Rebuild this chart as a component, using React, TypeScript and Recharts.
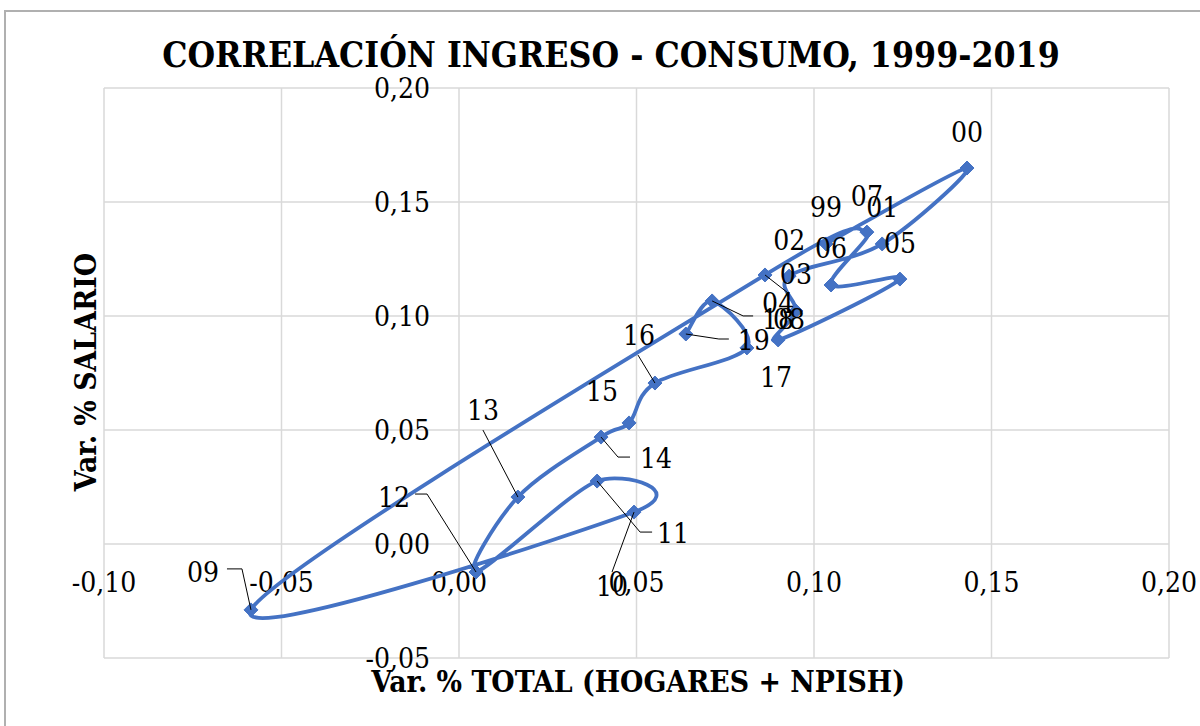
import React from 'react';
import { ScatterChart, Scatter, XAxis, YAxis, CartesianGrid, ReferenceDot } from 'recharts';

// year labels, consumption growth (x) and wage growth (y)
const YEARS = ['99', '00', '01', '02', '03', '04', '05', '06', '07', '08', '09', '10', '11', '12', '13', '14', '15', '16', '17', '18', '19'];
const CONSUMO = [0.1034, 0.1431, 0.1192, 0.093, 0.0949, 0.0899, 0.1242, 0.1048, 0.1149, 0.0862, -0.0586, 0.0493, 0.0389, 0.0048, 0.0166, 0.04, 0.0479, 0.0552, 0.0811, 0.0713, 0.0639];
const SALARIO = [0.1316, 0.1649, 0.1316, 0.1175, 0.1022, 0.0895, 0.1162, 0.1136, 0.1368, 0.118, -0.0289, 0.014, 0.0276, -0.0123, 0.0206, 0.0469, 0.0531, 0.0706, 0.086, 0.1066, 0.0921];

const X_TICKS = [-0.1, -0.05, 0, 0.05, 0.1, 0.15, 0.2];
const Y_TICKS = [-0.05, 0, 0.05, 0.1, 0.15, 0.2];

const BLUE = '#4472C4';
const GRID = '#D9D9D9';
const FONT = "'DejaVu Serif Condensed', 'DejaVu Serif', serif";
const TXT = { fontFamily: FONT, fontStretch: 'condensed' } as React.CSSProperties;

// label placement in px relative to the marker (default: above)
const LABEL_LAYOUT: Record<string, { dx: number; dy: number; leader?: number[][] }> = {
  '08': { dx: 24, dy: 45, leader: [[0, 0], [23, 18]] },
  '09': { dx: -48, dy: -37, leader: [[0, 0], [-9, -41], [-24, -41]] },
  '10': { dx: -22, dy: 74, leader: [[0, 0], [-22, 60]] },
  '11': { dx: 76, dy: 52, leader: [[0, 0], [43, 51], [55, 51]] },
  '12': { dx: -82, dy: -75, leader: [[0, 0], [-49, -78], [-61, -78]] },
  '13': { dx: -35, dy: -87, leader: [[0, 0], [-35, -67]] },
  '14': { dx: 55, dy: 21, leader: [[0, 0], [17, 20], [29, 20]] },
  '15': { dx: -27, dy: -31 },
  '16': { dx: -16, dy: -48, leader: [[0, 0], [-17, -28]] },
  '17': { dx: 29, dy: 30 },
  '18': { dx: 66, dy: 19, leader: [[0, 0], [31, 15], [41, 15]] },
  '19': { dx: 68, dy: 6, leader: [[0, 0], [33, 5], [43, 5]] },
};

const data = YEARS.map((year, i) => ({ year, x: CONSUMO[i], y: SALARIO[i] }));

const fmt = (v: number) => v.toFixed(2).replace('.', ',');

// catmull-rom style smoothing, similar to Excel's "smoothed line"
function SmoothLine(props: any) {
  const pts = props.points || [];
  if (pts.length < 2) return null;
  let d = `M${pts[0].x},${pts[0].y}`;
  for (let i = 0; i < pts.length - 1; i++) {
    const p0 = pts[i - 1] || pts[i];
    const p1 = pts[i];
    const p2 = pts[i + 1];
    const p3 = pts[i + 2] || p2;
    const c1x = p1.x + (p2.x - p0.x) / 6;
    const c1y = p1.y + (p2.y - p0.y) / 6;
    const c2x = p2.x - (p3.x - p1.x) / 6;
    const c2y = p2.y - (p3.y - p1.y) / 6;
    d += ` C${c1x},${c1y} ${c2x},${c2y} ${p2.x},${p2.y}`;
  }
  return <path d={d} fill="none" stroke={BLUE} strokeWidth={3.8} strokeLinejoin="round" />;
}

function Diamond({ cx, cy }: any) {
  const r = 7;
  return <path d={`M${cx},${cy - r} L${cx + r},${cy} L${cx},${cy + r} L${cx - r},${cy} Z`} fill={BLUE} stroke={BLUE} />;
}

function YearLabel({ cx, cy, payload }: any) {
  const lay = LABEL_LAYOUT[payload.year] || { dx: 0, dy: -36 };
  return (
    <g>
      {lay.leader && (
        <polyline
          points={lay.leader.map(([a, b]) => `${cx + a},${cy + b}`).join(' ')}
          fill="none"
          stroke="#000"
          strokeWidth={1}
        />
      )}
      <text x={cx + lay.dx} y={cy + lay.dy} textAnchor="middle" dominantBaseline="central" style={TXT} fontSize={28} fill="#000">
        {payload.year}
      </text>
    </g>
  );
}

export default function App() {
  return (
    <div style={{ position: 'absolute', left: 0, top: 0, width: 1200, height: 726, overflow: 'hidden', background: '#fff' }}>
      <div style={{ position: 'absolute', left: 4, top: 10, width: 1196, height: 716, borderLeft: '2px solid #B0B0B0', borderTop: '2px solid #B0B0B0', boxSizing: 'border-box' }} />
      <ScatterChart width={1200} height={726} margin={{ top: 88, right: 31, bottom: 68, left: 104 }} style={{ position: 'absolute', left: 0, top: 0 }}>
        <CartesianGrid stroke={GRID} strokeWidth={1.5} />
        <XAxis dataKey="x" type="number" domain={[-0.1, 0.2]} ticks={X_TICKS} hide allowDataOverflow />
        <YAxis dataKey="y" type="number" domain={[-0.05, 0.2]} ticks={Y_TICKS} hide allowDataOverflow />
        {X_TICKS.map((t) => (
          <ReferenceDot
            key={'x' + t}
            x={t}
            y={0}
            r={0}
            ifOverflow="visible"
            shape={(p: any) => (
              <text x={p.cx} y={p.cy + 48} textAnchor="middle" style={TXT} fontSize={28} fill="#000">
                {fmt(t)}
              </text>
            )}
          />
        ))}
        {Y_TICKS.map((t) => (
          <ReferenceDot
            key={'y' + t}
            x={0}
            y={t}
            r={0}
            ifOverflow="visible"
            shape={(p: any) => (
              <text x={p.cx - 29} y={p.cy + 10} textAnchor="end" style={TXT} fontSize={28} fill="#000">
                {fmt(t)}
              </text>
            )}
          />
        ))}
        <Scatter data={data} line={SmoothLine} lineType="joint" shape={Diamond} isAnimationActive={false} />
        <Scatter data={data} shape={YearLabel} isAnimationActive={false} />
      </ScatterChart>
      <svg width={1200} height={726} style={{ position: 'absolute', left: 0, top: 0, pointerEvents: 'none' }}>
        <text x={611} y={67} textAnchor="middle" style={TXT} fontWeight="bold" fontSize={35.3} fill="#000">
          CORRELACIÓN INGRESO - CONSUMO, 1999-2019
        </text>
        <text x={638} y={692} textAnchor="middle" style={TXT} fontWeight="bold" fontSize={29.8} fill="#000">
          Var. % TOTAL (HOGARES + NPISH)
        </text>
        <text x={96} y={372} transform="rotate(-90 96 372)" textAnchor="middle" style={TXT} fontWeight="bold" fontSize={29.8} fill="#000">
          Var. % SALARIO
        </text>
      </svg>
    </div>
  );
}
